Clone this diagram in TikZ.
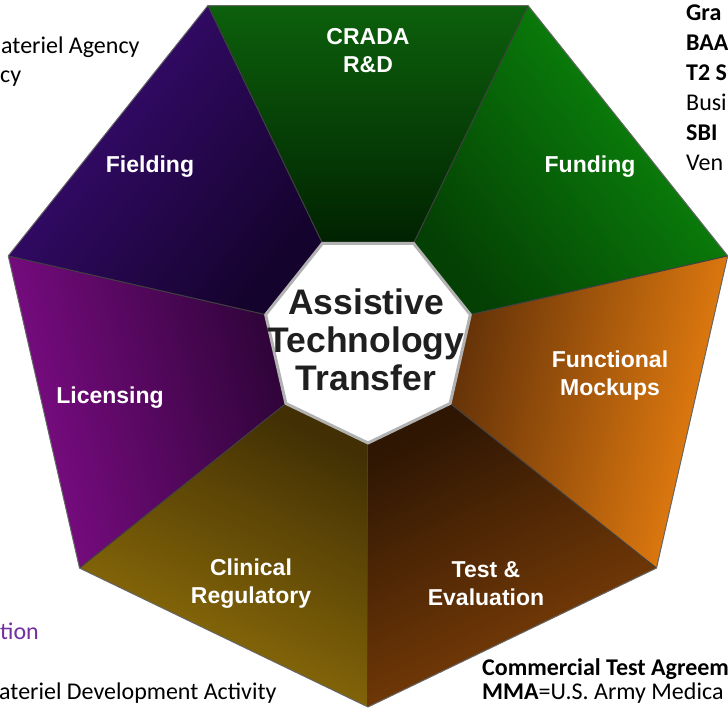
\documentclass[tikz,border=0pt]{standalone}
\usepackage{fontspec}
\setmainfont{Carlito}
\newfontfamily\arialfont{Liberation Sans}
\usetikzlibrary{positioning}

% segment colours, outer side / centre side
\definecolor{cradaout}{RGB}{12,96,12}
\definecolor{cradain}{RGB}{1,34,1}
\definecolor{fieldout}{RGB}{60,12,120}
\definecolor{fieldin}{RGB}{20,3,44}
\definecolor{licout}{RGB}{128,12,136}
\definecolor{licin}{RGB}{46,4,56}
\definecolor{clinout}{RGB}{150,116,10}
\definecolor{clinin}{RGB}{66,48,4}
\definecolor{testout}{RGB}{132,66,8}
\definecolor{testin}{RGB}{46,22,3}
\definecolor{funcout}{RGB}{238,130,16}
\definecolor{funcin}{RGB}{100,50,8}
\definecolor{fundout}{RGB}{12,145,12}
\definecolor{fundin}{RGB}{4,64,4}
\definecolor{notepurple}{RGB}{112,48,160}

\def\Rout{369}
\def\Rin{105}

\tikzset{
  segtxt/.style={text=white, font=\arialfont\bfseries\fontsize{23}{28}\selectfont, align=center, inner sep=0pt},
  hubtxt/.style={text=black!88, font=\arialfont\bfseries\fontsize{35.5}{38}\selectfont, align=center, inner sep=0pt},
  note/.style={font=\fontsize{24}{29}\selectfont, inner sep=0pt, anchor=base west},
  divider/.style={black!75, line width=1pt},
  hub/.style={fill=white, draw=black!30, line width=3pt, line join=round},
}

\begin{document}
\begin{tikzpicture}[x=1pt, y=1pt]

\fill[white] (-368,-374) rectangle (360,338);
\useasboundingbox (-368,-374) rectangle (360,338);

% the seven segments
\foreach \a/\oc/\ic [evaluate=\a as \sa using \a-64.286] in
  {64.286/cradaout/cradain, 115.714/fieldout/fieldin, 167.143/licout/licin,
   218.571/clinout/clinin, 270/testout/testin, 321.429/funcout/funcin,
   12.857/fundout/fundin}
  \shade[top color=\oc, bottom color=\ic, shading angle=\sa]
    (\a:\Rout) -- (\a+51.429:\Rout) -- (\a+51.429:\Rin) -- (\a:\Rin) -- cycle;

\foreach \a in {12.857, 64.286, 115.714, 167.143, 218.571, 270, 321.429}
  \draw[divider] (\a:\Rin) -- (\a:\Rout);

\draw[black!60, line width=1pt, line join=round]
  (12.857:\Rout) \foreach \k in {1,...,6} { -- (12.857+51.429*\k:\Rout) } -- cycle;

\filldraw[hub]
  (64.286:\Rin) \foreach \k in {1,...,6} { -- (64.286+51.429*\k:\Rin) } -- cycle;

% labels
\node[segtxt] (crada) at (0,287) {CRADA\\R\&D};
\node[segtxt] (fielding) at (-218,171) {Fielding};
\node[segtxt] (funding) at (222,171) {Funding};
\node[segtxt] (licensing) at (-258,-60) {Licensing};
\node[segtxt] (mockups) at (242,-38) {Functional\\Mockups};
\node[segtxt] (testeval) at (118,-246) {Test \&\\Evaluation};
\node[segtxt] (clinical) at (-117,-246) {Clinical\\Regulatory};

\node[hubtxt] (hub) at (-2,-2) {Assistive\\Technology\\Transfer};

% side notes
\node[note] (agency1) at (-367,284) {ateriel Agency};
\node[note] (agency2) at (-368,255) {cy};

\node[note] (grants) at (318,317) {\textbf{Gra}};
\node[note] (baa) at (318,287) {\textbf{BAA}};
\node[note] (ttwo) at (318,257) {\textbf{T2 S}};
\node[note] (busi) at (318,227) {Busi};
\node[note] (sbir) at (318,197) {\textbf{SBI}};
\node[note] (ven) at (318,167) {Ven};

\node[note, text=notepurple] (tion) at (-368,-301) {tion};
\node[note] (usammda) at (-369,-361) {ateriel Development Activity};

\node[note] (cta) at (114,-337) {\textbf{Commercial Test Agreem}};
\node[note] (mma) at (114,-361) {\textbf{MMA}=U.S. Army Medica};

\end{tikzpicture}
\end{document}
